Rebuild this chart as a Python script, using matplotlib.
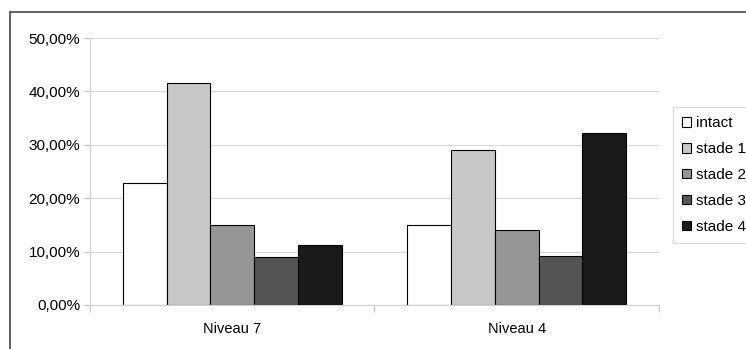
import numpy as np
import matplotlib.pyplot as plt
from matplotlib.patches import Rectangle
from matplotlib.ticker import FuncFormatter

plt.rcParams['font.family'] = ['Liberation Sans', 'DejaVu Sans']

categories = ['Niveau 7', 'Niveau 4']
series = ['intact', 'stade 1', 'stade 2', 'stade 3', 'stade 4']
values = {
    'intact': [22.8, 15.0],
    'stade 1': [41.6, 29.0],
    'stade 2': [15.0, 14.1],
    'stade 3': [9.0, 9.2],
    'stade 4': [11.3, 32.2],
}
colors = ['#ffffff', '#c8c8c8', '#969696', '#555555', '#1a1a1a']

fig = plt.figure(figsize=(7.46, 3.49), dpi=100)
# outer chart frame (right and bottom edges fall outside the image)
fig.patches.append(Rectangle((10 / 746, -0.1), 1.2, (349 - 12) / 349 + 0.1,
                             transform=fig.transFigure, fill=False,
                             edgecolor='#555555', linewidth=1.3))

ax = fig.add_axes([90 / 746, 1 - 305 / 349, (659 - 90) / 746, (305 - 38) / 349])

x = np.arange(len(categories))
n = len(series)
group_w = 0.77
bw = group_w / n
for i, (name, c) in enumerate(zip(series, colors)):
    ax.bar(x - group_w / 2 + bw * (i + 0.5), values[name], width=bw,
           color=c, edgecolor='black', linewidth=0.8, label=name, zorder=3)

ax.set_xlim(-0.5, 1.5)
ax.set_ylim(0, 50)
ax.set_yticks(np.arange(0, 51, 10))
ax.yaxis.set_major_formatter(FuncFormatter(lambda v, p: f'{v:.2f}%'.replace('.', ',')))
ax.grid(axis='y', color='#d9d9d9', linewidth=0.8, zorder=0)

ax.set_xticks([-0.5, 0.5, 1.5])
ax.set_xticklabels([])
ax.set_xticks(x, minor=True)
ax.set_xticklabels(categories, minor=True)
ax.tick_params(axis='x', which='minor', length=0, pad=12, labelsize=10.5)
ax.tick_params(axis='x', which='major', length=5, color='#c8c8c8')
ax.tick_params(axis='y', length=4, color='#c8c8c8', labelsize=11, pad=3)

for s in ['top', 'right']:
    ax.spines[s].set_visible(False)
ax.spines['left'].set_color('#d0d0d0')
ax.spines['bottom'].set_color('#d0d0d0')

leg = fig.legend(loc='upper left', bbox_to_anchor=(673 / 746, 1 - 107 / 349),
                 frameon=True, fancybox=False, fontsize=11, handlelength=0.6,
                 handleheight=0.6, handletextpad=0.3, labelspacing=0.78,
                 borderpad=0.6, borderaxespad=0)
leg.get_frame().set_edgecolor('#d0d0d0')
leg.get_frame().set_linewidth(0.8)

fig.savefig('out.png', dpi=100)
